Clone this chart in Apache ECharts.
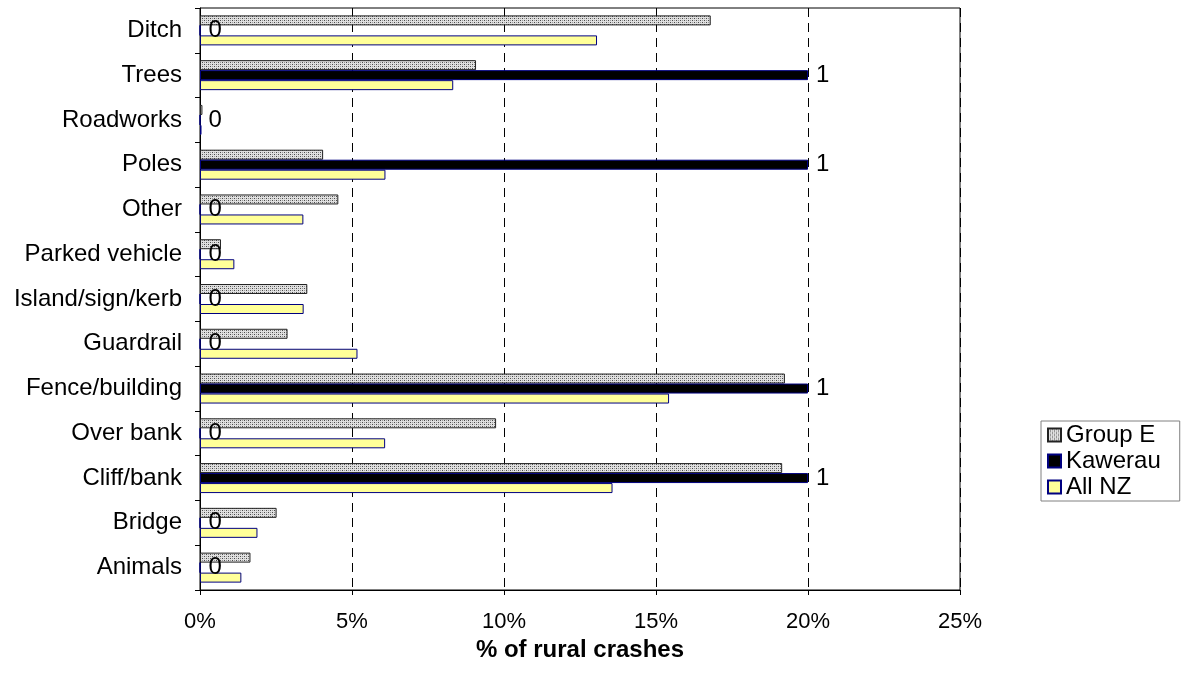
<!DOCTYPE html>
<html>
<head>
<meta charset="utf-8">
<script src="https://cdn.jsdelivr.net/npm/echarts@6/dist/echarts.min.js"></script>
<style>
html,body{margin:0;padding:0;background:#fff;}
#chart{width:1182px;height:682px;}
</style>
</head>
<body>
<div id="chart"></div>
<script>
// Categories listed top to bottom
const categories = ["Ditch","Trees","Roadworks","Poles","Other","Parked vehicle","Island/sign/kerb","Guardrail","Fence/building","Over bank","Cliff/bank","Bridge","Animals"];
const groupE = [16.8, 9.08, 0.08, 4.05, 4.55, 0.69, 3.53, 2.88, 19.24, 9.74, 19.15, 2.52, 1.66];
const kawerau = [0, 20, 0, 20, 0, 0, 0, 0, 20, 0, 20, 0, 0];
const kawerauCounts = [0, 1, 0, 1, 0, 0, 0, 0, 1, 0, 1, 0, 0];
const allNZ = [13.06, 8.33, 0.05, 6.10, 3.40, 1.13, 3.41, 5.18, 15.43, 6.09, 13.57, 1.89, 1.36];
const xTicks = [0, 5, 10, 15, 20, 25];

function makePattern(){
  const c = document.createElement('canvas');
  c.width = 4; c.height = 4;
  const g = c.getContext('2d');
  g.fillStyle = '#e0e0e0'; g.fillRect(0,0,4,4);
  g.fillStyle = '#4a4a4a';
  g.fillRect(0,0,1,1); g.fillRect(2,2,1,1);
  g.fillStyle = '#9a9a9a';
  g.fillRect(2,0,1,1); g.fillRect(0,2,1,1);
  return c;
}
const pattern = {image: makePattern(), repeat: 'repeat'};
const font = '"Liberation Sans", Arial, sans-serif';
const FS = 24;

const chart = echarts.init(document.getElementById('chart'), null, {renderer:'canvas'});
chart.setOption({
  animation: false,
  textStyle: {fontFamily: font},
  grid: {left: 200, right: 222, top: 8, bottom: 92, show: true, borderColor: '#000', borderWidth: 1, backgroundColor: 'transparent'},
  legend: {
    orient: 'vertical', left: 1041, top: 421,
    data: ['Group E', 'Kawerau', 'All NZ'],
    itemWidth: 13, itemHeight: 13, itemGap: 0,
    padding: [1, 19, 1, 6],
    borderColor: '#808080', borderWidth: 1,
    icon: 'rect',
    textStyle: {fontSize: FS, color: '#000', fontFamily: font, padding: [0,0,0,0], lineHeight: 26}
  },
  xAxis: {
    type: 'value', min: xTicks[0], max: xTicks[xTicks.length-1], interval: 5,
    name: '% of rural crashes', nameLocation: 'middle', nameGap: 37,
    nameTextStyle: {fontSize: FS, fontWeight: 'bold', color: '#000', fontFamily: font},
    axisLine: {show: true, lineStyle: {color: '#000', width: 1}},
    axisTick: {show: true, length: 5, lineStyle: {color: '#000'}},
    axisLabel: {formatter: '{value}%', fontSize: 22, color: '#000', margin: 21, fontFamily: font},
    splitLine: {show: true, lineStyle: {color: '#000', type: [9, 6], width: 1}}
  },
  yAxis: {
    type: 'category', data: categories, inverse: true,
    axisLine: {show: true, lineStyle: {color: '#000', width: 1}},
    axisTick: {show: true, length: 5, lineStyle: {color: '#000'}},
    axisLabel: {fontSize: FS, color: '#000', margin: 18, fontFamily: font},
    splitLine: {show: false}
  },
  series: [
    {name: 'Group E', type: 'bar', data: groupE, barWidth: 10, barGap: '0%',
     itemStyle: {color: pattern, borderColor: '#222', borderWidth: 1}},
    {name: 'Kawerau', type: 'bar', data: kawerau, barWidth: 10, barGap: '0%',
     itemStyle: {color: '#000', borderColor: '#000080', borderWidth: 1},
     label: {show: true, position: 'right', distance: 8, fontSize: FS, color: '#000', fontFamily: font,
       formatter: p => String(kawerauCounts[p.dataIndex])}},
    {name: 'All NZ', type: 'bar', data: allNZ, barWidth: 10, barGap: '0%',
     itemStyle: {color: '#ffff99', borderColor: '#000080', borderWidth: 1}}
  ]
});
</script>
</body>
</html>
